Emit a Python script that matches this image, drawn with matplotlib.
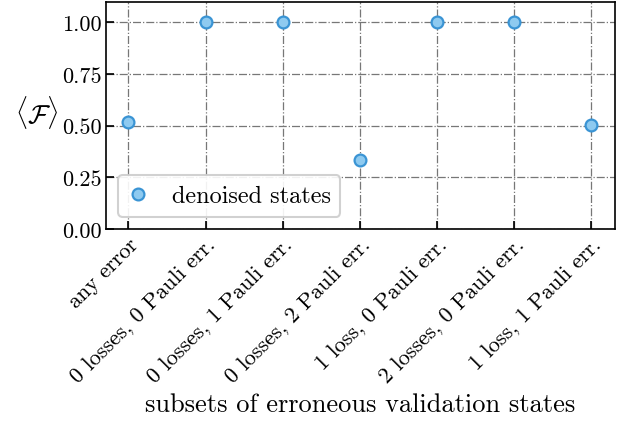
import matplotlib
matplotlib.use("Agg")
import matplotlib.pyplot as plt

plt.rcParams.update({
    "font.family": "serif",
    "font.serif": ["cmr10"],
    "mathtext.fontset": "cm",
    "axes.unicode_minus": False,
    "axes.formatter.use_mathtext": True,
    "font.size": 16,
})

categories = [
    "any error",
    "0 losses, 0 Pauli err.",
    "0 losses, 1 Pauli err.",
    "0 losses, 2 Pauli err.",
    "1 loss, 0 Pauli err.",
    "2 losses, 0 Pauli err.",
    "1 loss, 1 Pauli err.",
]
fidelity = [0.516, 1.0, 1.0, 0.334, 1.0, 1.0, 0.503]
yticks = [0.0, 0.25, 0.5, 0.75, 1.0]

fig = plt.figure(figsize=(6.28, 4.27), dpi=100)
ax = fig.add_axes([0.169, 0.461, 0.81, 0.532])

x = list(range(len(categories)))
ax.plot(x, fidelity, linestyle="none", marker="o", markersize=8.5,
        markerfacecolor="#8ecaf0", markeredgecolor="#3a94d4",
        markeredgewidth=1.6, label="denoised states", zorder=3)

ax.set_xlim(-0.29, 6.31)
ax.set_ylim(0, 1.098)
ax.set_xticks(x)
ax.set_xticklabels(categories, rotation=45, ha="right", rotation_mode="anchor")
ax.set_yticks(yticks)
ax.set_yticklabels([f"{v:.2f}" for v in yticks])
ax.tick_params(direction="in", length=6, width=1.2, labelsize=16)

ax.grid(True, linestyle="-.", color="#777777", linewidth=0.9)
ax.set_axisbelow(True)
for s in ax.spines.values():
    s.set_linewidth(1.2)

ax.set_ylabel(r"$\langle\mathcal{F}\rangle$", rotation=0, fontsize=19,
              ha="center", va="center")
ax.yaxis.set_label_coords(-0.137, 0.52)
ax.set_xlabel("subsets of erroneous validation states", fontsize=19)

leg = ax.legend(loc="lower left", framealpha=0.9, edgecolor="#cccccc",
                handlelength=0.8, handletextpad=1.0, borderpad=0.4,
                fontsize=17.5)
leg.get_frame().set_linewidth(1.5)

fig.savefig("out.png", dpi=100)
